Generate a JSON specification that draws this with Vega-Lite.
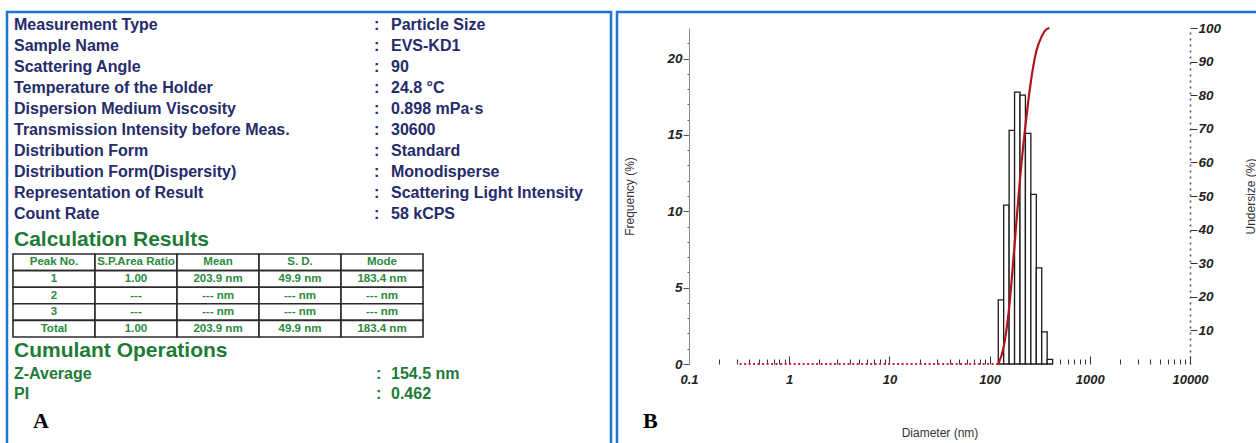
{
  "$schema": "https://vega.github.io/schema/vega-lite/v6.json",
  "background": "white",
  "padding": {"left": 5, "top": 10, "right": 0, "bottom": 0},
  "spacing": 2,
  "config": {"view": {"stroke": null}, "font": "Liberation Sans", "axis": {"grid": false}},
  "datasets": {
    "info": [
      {"item": "Measurement Type", "value": "Particle Size"},
      {"item": "Sample Name", "value": "EVS-KD1"},
      {"item": "Scattering Angle", "value": "90"},
      {"item": "Temperature of the Holder", "value": "24.8 °C"},
      {"item": "Dispersion Medium Viscosity", "value": "0.898 mPa·s"},
      {"item": "Transmission Intensity before Meas.", "value": "30600"},
      {"item": "Distribution Form", "value": "Standard"},
      {"item": "Distribution Form(Dispersity)", "value": "Monodisperse"},
      {"item": "Representation of Result", "value": "Scattering Light Intensity"},
      {"item": "Count Rate", "value": "58 kCPS"}
    ],
    "headings": [{"heading": "Calculation Results"}, {"heading": "Cumulant Operations"}],
    "peaks": [
      {"row": "header", "col": "Peak No.", "text": "Peak No."},
      {"row": "header", "col": "S.P.Area Ratio", "text": "S.P.Area Ratio"},
      {"row": "header", "col": "Mean", "text": "Mean"},
      {"row": "header", "col": "S. D.", "text": "S. D."},
      {"row": "header", "col": "Mode", "text": "Mode"},
      {"row": "1", "col": "Peak No.", "text": "1"},
      {"row": "1", "col": "S.P.Area Ratio", "text": "1.00"},
      {"row": "1", "col": "Mean", "text": "203.9 nm"},
      {"row": "1", "col": "S. D.", "text": "49.9 nm"},
      {"row": "1", "col": "Mode", "text": "183.4 nm"},
      {"row": "2", "col": "Peak No.", "text": "2"},
      {"row": "2", "col": "S.P.Area Ratio", "text": "---"},
      {"row": "2", "col": "Mean", "text": "--- nm"},
      {"row": "2", "col": "S. D.", "text": "--- nm"},
      {"row": "2", "col": "Mode", "text": "--- nm"},
      {"row": "3", "col": "Peak No.", "text": "3"},
      {"row": "3", "col": "S.P.Area Ratio", "text": "---"},
      {"row": "3", "col": "Mean", "text": "--- nm"},
      {"row": "3", "col": "S. D.", "text": "--- nm"},
      {"row": "3", "col": "Mode", "text": "--- nm"},
      {"row": "Total", "col": "Peak No.", "text": "Total"},
      {"row": "Total", "col": "S.P.Area Ratio", "text": "1.00"},
      {"row": "Total", "col": "Mean", "text": "203.9 nm"},
      {"row": "Total", "col": "S. D.", "text": "49.9 nm"},
      {"row": "Total", "col": "Mode", "text": "183.4 nm"}
    ],
    "cumulant": [
      {"item": "Z-Average", "value": "154.5 nm"},
      {"item": "PI", "value": "0.462"}
    ],
    "frequency": [
      {"d0": 122, "d1": 138.2, "f": 4.2},
      {"d0": 138.2, "d1": 156.6, "f": 10.4},
      {"d0": 156.6, "d1": 177.5, "f": 15.3},
      {"d0": 177.5, "d1": 201.1, "f": 17.8},
      {"d0": 201.1, "d1": 227.8, "f": 17.6},
      {"d0": 227.8, "d1": 258.1, "f": 15.1},
      {"d0": 258.1, "d1": 292.5, "f": 11.1},
      {"d0": 292.5, "d1": 331.4, "f": 6.3},
      {"d0": 331.4, "d1": 375.4, "f": 2.1},
      {"d0": 375.4, "d1": 425.4, "f": 0.3}
    ],
    "undersize": [
      {"d": 0.32, "u": 0, "part": "flat"},
      {"d": 122, "u": 0, "part": "flat"},
      {"d": 122, "u": 0, "part": "rise"},
      {"d": 138, "u": 5, "part": "rise"},
      {"d": 157, "u": 17, "part": "rise"},
      {"d": 177, "u": 35, "part": "rise"},
      {"d": 201, "u": 55, "part": "rise"},
      {"d": 228, "u": 71, "part": "rise"},
      {"d": 258, "u": 84, "part": "rise"},
      {"d": 292, "u": 93, "part": "rise"},
      {"d": 331, "u": 97.5, "part": "rise"},
      {"d": 360, "u": 99.3, "part": "rise"},
      {"d": 395, "u": 100, "part": "rise"}
    ]
  },
  "hconcat": [
    {
      "width": 604,
      "height": 440,
      "view": {"stroke": "#1f74cf", "strokeWidth": 2.5},
      "title": {"text": "A", "orient": "bottom", "anchor": "start", "frame": "group", "offset": -41, "dx": 26, "font": "Liberation Serif", "fontSize": 22, "fontWeight": "bold", "color": "#000000"},
      "layer": [
        {
          "data": {"name": "info"},
          "encoding": {
            "y": {"field": "item", "type": "nominal", "sort": null, "axis": null, "scale": {"type": "point", "range": [13, 202], "padding": 0}}
          },
          "layer": [
            {
              "mark": {"type": "text", "align": "left", "baseline": "middle", "fontSize": 16, "fontWeight": "bold", "color": "#252b6b"},
              "encoding": {"x": {"datum": "label", "type": "nominal", "axis": null, "scale": {"type": "point", "domain": ["label", "value"], "range": [7, 367], "padding": 0}}, "text": {"field": "item"}}
            },
            {
              "mark": {"type": "text", "align": "left", "baseline": "middle", "fontSize": 16, "fontWeight": "bold", "color": "#252b6b"},
              "encoding": {"x": {"datum": "value", "type": "nominal"}, "text": {"value": ":"}}
            },
            {
              "mark": {"type": "text", "align": "left", "baseline": "middle", "dx": 17, "fontSize": 16, "fontWeight": "bold", "color": "#252b6b"},
              "encoding": {"x": {"datum": "value", "type": "nominal"}, "text": {"field": "value"}}
            }
          ]
        },
        {
          "data": {"name": "headings"},
          "mark": {"type": "text", "align": "left", "baseline": "middle", "fontSize": 21, "fontWeight": "bold", "color": "#1d7a37"},
          "encoding": {
            "y": {"field": "heading", "type": "nominal", "sort": null, "axis": null, "scale": {"type": "point", "range": [228, 339], "padding": 0}},
            "x": {"datum": "label", "type": "nominal", "axis": null, "scale": {"type": "point", "domain": ["label"], "range": [7, 7], "padding": 0}},
            "text": {"field": "heading"}
          }
        },
        {
          "data": {"name": "peaks"},
          "encoding": {
            "x": {"field": "col", "type": "nominal", "sort": null, "axis": null, "scale": {"type": "band", "range": [6, 416], "paddingInner": 0, "paddingOuter": 0}},
            "y": {"field": "row", "type": "nominal", "sort": null, "axis": null, "scale": {"type": "band", "range": [242, 325], "paddingInner": 0, "paddingOuter": 0}}
          },
          "layer": [
            {"mark": {"type": "rect", "fill": "#ffffff", "stroke": "#2b2b2b", "strokeWidth": 1.6}},
            {"mark": {"type": "text", "align": "center", "baseline": "middle", "fontSize": 11.5, "fontWeight": "bold", "color": "#2a8a3e"}, "encoding": {"text": {"field": "text"}}}
          ]
        },
        {
          "data": {"name": "cumulant"},
          "encoding": {
            "y": {"field": "item", "type": "nominal", "sort": null, "axis": null, "scale": {"type": "point", "range": [362, 382], "padding": 0}}
          },
          "layer": [
            {
              "mark": {"type": "text", "align": "left", "baseline": "middle", "fontSize": 16, "fontWeight": "bold", "color": "#1d7a37"},
              "encoding": {"x": {"datum": "label", "type": "nominal", "axis": null, "scale": {"type": "point", "domain": ["label", "value"], "range": [7, 369], "padding": 0}}, "text": {"field": "item"}}
            },
            {
              "mark": {"type": "text", "align": "left", "baseline": "middle", "fontSize": 16, "fontWeight": "bold", "color": "#1d7a37"},
              "encoding": {"x": {"datum": "value", "type": "nominal"}, "text": {"value": ":"}}
            },
            {
              "mark": {"type": "text", "align": "left", "baseline": "middle", "dx": 15, "fontSize": 16, "fontWeight": "bold", "color": "#1d7a37"},
              "encoding": {"x": {"datum": "value", "type": "nominal"}, "text": {"field": "value"}}
            }
          ]
        }
      ],
      "resolve": {"scale": {"x": "independent", "y": "independent"}}
    },
    {
      "width": 645,
      "height": 440,
      "view": {"stroke": "#1f74cf", "strokeWidth": 2.5},
      "title": {"text": "B", "orient": "bottom", "anchor": "start", "frame": "group", "offset": -41, "dx": 26, "font": "Liberation Serif", "fontSize": 22, "fontWeight": "bold", "color": "#000000"},
      "layer": [
        {
          "data": {"name": "frequency"},
          "mark": {"type": "rect", "fill": "#ffffff", "stroke": "#1a1a1a", "strokeWidth": 1.3},
          "encoding": {
            "x": {
              "field": "d0", "type": "quantitative",
              "scale": {"type": "log", "domain": [0.1, 10000], "range": [72, 573], "nice": false},
              "axis": {
                "orient": "bottom", "offset": -88, "domain": false,
                "values": [0.1, 0.2, 0.3, 0.4, 0.5, 0.6, 0.7, 0.8, 0.9, 1, 2, 3, 4, 5, 6, 7, 8, 9, 10, 20, 30, 40, 50, 60, 70, 80, 90, 100, 200, 300, 400, 500, 600, 700, 800, 900, 1000, 2000, 3000, 4000, 5000, 6000, 7000, 8000, 9000, 10000],
                "format": "~g",
                "labelExpr": "indexof(['0.1','1','10','100','1000','10000'], datum.label) >= 0 ? datum.label : ''",
                "tickSize": {"condition": {"test": "indexof([0.1, 1, 10, 100, 1000, 10000], datum.value) >= 0", "value": -8}, "value": -5},
                "tickColor": "#333333", "tickWidth": 1,
                "labelFontStyle": "italic", "labelFontWeight": "bold", "labelFontSize": 13, "labelColor": "#222222",
                "labelPadding": 17, "labelOverlap": false, "labelFlush": false,
                "title": "Diameter (nm)", "titleFontSize": 12, "titleFontWeight": "normal", "titleColor": "#333333", "titlePadding": 38
              }
            },
            "x2": {"field": "d1"},
            "y": {
              "field": "f", "type": "quantitative",
              "scale": {"domain": [0, 22], "range": [352, 16], "nice": false},
              "axis": {
                "orient": "left", "offset": -72,
                "values": [0, 1, 2, 3, 4, 5, 6, 7, 8, 9, 10, 11, 12, 13, 14, 15, 16, 17, 18, 19, 20, 21],
                "labelExpr": "datum.value % 5 == 0 ? datum.label : ''",
                "tickSize": {"condition": {"test": "datum.value % 5 == 0", "value": 6}, "value": 2},
                "domainColor": "#888888", "tickColor": "#555555",
                "labelFontStyle": "italic", "labelFontWeight": "bold", "labelFontSize": 13.5, "labelColor": "#222222", "labelPadding": 1, "labelOverlap": false,
                "title": "Frequency (%)", "titleFontSize": 12, "titleFontWeight": "normal", "titleColor": "#333333", "titlePadding": 30
              }
            },
            "y2": {"datum": 0}
          }
        },
        {
          "data": {"name": "undersize"},
          "encoding": {
            "x": {"field": "d", "type": "quantitative", "scale": {"type": "log", "domain": [0.1, 10000], "range": [72, 573], "nice": false}},
            "y": {
              "field": "u", "type": "quantitative",
              "scale": {"domain": [0, 100], "range": [352, 16], "nice": false},
              "axis": {
                "orient": "right", "offset": -72,
                "values": [10, 20, 30, 40, 50, 60, 70, 80, 90, 100],
                "tickSize": 7, "tickColor": "#333333",
                "domainDash": [2, 4], "domainColor": "#555555", "domainWidth": 1.6,
                "labelFontStyle": "italic", "labelFontWeight": "bold", "labelFontSize": 13.5, "labelColor": "#222222", "labelPadding": 1,
                "title": "Undersize (%)", "titleAngle": -90, "titleFontSize": 12, "titleFontWeight": "normal", "titleColor": "#333333", "titlePadding": 37
              }
            }
          },
          "layer": [
            {"transform": [{"filter": "datum.part == 'flat'"}], "mark": {"type": "line", "color": "#c8262c", "strokeWidth": 1.8, "strokeDash": [2, 2.5]}},
            {"transform": [{"filter": "datum.part == 'rise'"}], "mark": {"type": "line", "color": "#b0141c", "strokeWidth": 2.2, "interpolate": "monotone"}},
            {"data": {"values": [{"u": 100}]}, "mark": {"type": "rule", "color": "#8a8a8a", "strokeWidth": 1.2}, "encoding": {"x": {"datum": 0.1}, "x2": {"datum": 10000}}}
          ]
        }
      ],
      "resolve": {"scale": {"y": "independent"}}
    }
  ]
}
